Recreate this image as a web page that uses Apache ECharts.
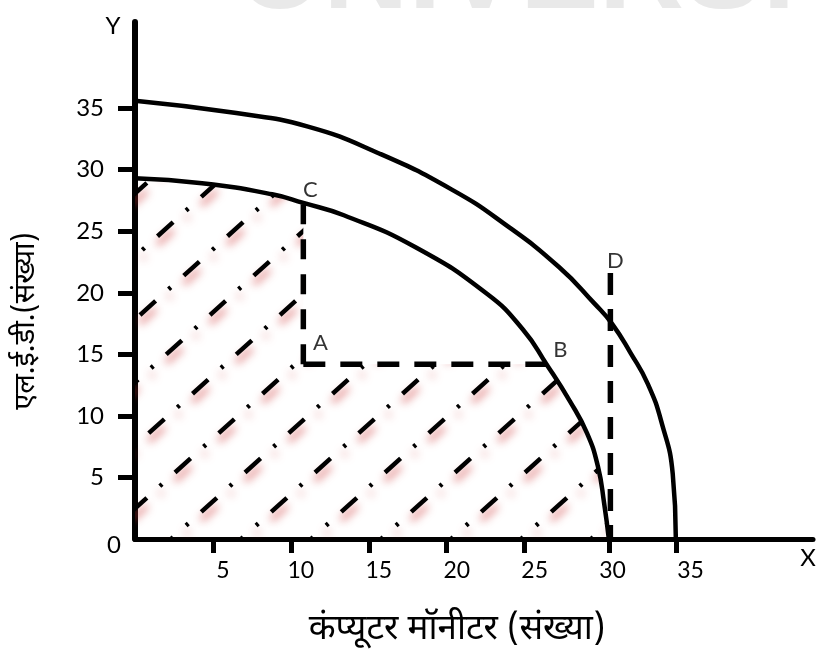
<!DOCTYPE html>
<html>
<head>
<meta charset="utf-8">
<script src="https://cdn.jsdelivr.net/npm/echarts@6/dist/echarts.min.js"></script>
<style>
  html, body { margin: 0; padding: 0; background: #fff; }
  #chart { width: 822px; height: 649px; }
</style>
</head>
<body>
<div id="chart"></div>
<script>
// Production possibility curves: LEDs (y) against computer monitors (x)
const xTickValues = [5, 10, 15, 20, 25, 30, 35];
const yTickValues = [5, 10, 15, 20, 25, 30, 35];

// original (inner) and shifted (outer) production possibility curves
const innerCurve = [[0, 29.3], [4.3, 28.9], [8.8, 28.0], [10.8, 27.3], [13.4, 26.3], [18.0, 23.7],
                    [22.6, 19.9], [24.9, 17.0], [26.4, 14.2], [27.9, 11.2], [29.0, 8.6],
                    [29.7, 5.9], [30.1, 2.9], [30.4, 0]];
const outerCurve = [[0, 35.6], [6.5, 34.6], [11.1, 33.5], [15.7, 31.3], [20.3, 28.4], [23.7, 25.6],
                    [27.2, 22.1], [29.5, 19.1], [30.6, 17.5], [31.8, 15.1], [32.9, 12.6],
                    [33.8, 9.4], [34.5, 5.3], [34.7, 0]];

// labelled points
const pointA = [10.8, 14.2];
const pointB = [26.4, 14.2];
const pointC = [10.8, 27.3];
const pointD = [30.5, 21.6];
const pointNames = ['A', 'B', 'C', 'D'];

const xTitle = 'कंप्यूटर मॉनीटर (संख्या)';
const yTitle = 'एल.ई.डी.(संख्या)';

const latin = 'Lato, "Open Sans", sans-serif';
const deva = '"Noto Sans Devanagari", "Lohit Devanagari", Mangal, "Noto Sans", sans-serif';

// repeating tile of dash-dot diagonal hatching with a soft red shadow
function makeHatchTile() {
  const W = 70, rise = 63, H = rise * 5;
  const D = Math.hypot(W, rise);
  const P = D * 5 / 8;
  const canvas = document.createElement('canvas');
  canvas.width = W; canvas.height = H;
  const ctx = canvas.getContext('2d');
  const ux = W / D, uy = -rise / D;
  const dash = 21, dot = 3, gap = (P - dash - dot) / 2;
  ctx.lineWidth = 4.5;
  ctx.lineCap = 'butt';
  ctx.strokeStyle = '#000';
  ctx.shadowColor = 'rgba(205, 50, 50, 0.65)';
  ctx.shadowBlur = 8;
  ctx.shadowOffsetX = 0;
  ctx.shadowOffsetY = 8;
  ctx.setLineDash([dash, gap, dot, gap]);
  const t0 = -30, t1 = D + 30;
  for (let n = -1; n <= 7; n++) {
    const phase = ((-n * D) % P + P) % P;
    ctx.lineDashOffset = (((phase + t0) % P) + P) % P;
    ctx.beginPath();
    ctx.moveTo(t0 * ux, rise * n + t0 * uy);
    ctx.lineTo(t1 * ux, rise * n + t1 * uy);
    ctx.stroke();
  }
  return canvas;
}

// shaded area under the inner curve, leaving out the corner beyond A
function hatchRegion() {
  const pts = [[0, 0]];
  for (let i = innerCurve.length - 1; i >= 0; i--) {
    const p = innerCurve[i];
    if (p[1] < pointB[1]) pts.push(p);
  }
  pts.push(pointB, pointA, pointC);
  for (let i = innerCurve.length - 1; i >= 0; i--) {
    const p = innerCurve[i];
    if (p[0] < pointC[0]) pts.push(p);
  }
  return pts;
}

const hatchTile = makeHatchTile();
const region = hatchRegion();

const chart = echarts.init(document.getElementById('chart'), null, { renderer: 'canvas' });

const dashed = (from, to, dash) => ({
  type: 'line',
  data: [from, to],
  showSymbol: false,
  symbol: 'none',
  silent: true,
  z: 4,
  lineStyle: { color: '#000', width: 5.5, type: dash, cap: 'butt' }
});

const curve = (pts) => ({
  type: 'line',
  data: pts,
  smooth: 0.5,
  showSymbol: false,
  symbol: 'none',
  silent: true,
  z: 3,
  lineStyle: { color: '#000', width: 4.5 }
});

const labelOffsets = { A: [17, -21], B: [14, -14], C: [7, -13], D: [5, -12] };
const namedPoints = [pointA, pointB, pointC, pointD];

const option = {
  animation: false,
  backgroundColor: '#fff',
  grid: { left: 135, top: 22, right: 9, bottom: 110, outerBoundsMode: 'none', containLabel: false },
  xAxis: {
    type: 'value', min: 0, max: 43.5,
    axisLine: { show: true, onZero: false, lineStyle: { color: '#000', width: 5 } },
    axisTick: { show: true, customValues: [5, 10, 15, 20, 25, innerCurve[innerCurve.length - 1][0], outerCurve[outerCurve.length - 1][0]],
                length: 14, lineStyle: { color: '#000', width: 5 } },
    axisLabel: { customValues: xTickValues, color: '#000', fontSize: 23, fontFamily: latin, margin: 20, padding: [0, 0, 0, 20] },
    splitLine: { show: false }
  },
  yAxis: {
    type: 'value', min: 0, max: 42,
    axisLine: { show: true, onZero: false, lineStyle: { color: '#000', width: 6 } },
    axisTick: { show: true, customValues: yTickValues, length: 17, lineStyle: { color: '#000', width: 5 } },
    axisLabel: { customValues: yTickValues, color: '#000', fontSize: 24, fontFamily: latin, margin: 31 },
    splitLine: { show: false }
  },
  series: [
    {
      type: 'custom',
      coordinateSystem: 'cartesian2d',
      data: [[0, 0]],
      silent: true,
      z: 1,
      renderItem: (params, api) => ({
        type: 'polygon',
        shape: { points: region.map(p => api.coord(p)) },
        style: { fill: { image: hatchTile, repeat: 'repeat' }, stroke: null }
      })
    },
    curve(innerCurve),
    curve(outerCurve),
    dashed(pointA, pointC, [20, 15]),
    dashed(pointA, pointB, [22, 15]),
    dashed(pointD, [pointD[0], 0], [22, 14]),
    {
      type: 'scatter',
      symbolSize: 1,
      itemStyle: { color: 'rgba(0,0,0,0)' },
      silent: true,
      z: 5,
      data: namedPoints.map((p, i) => ({
        name: pointNames[i],
        value: p,
        label: { offset: labelOffsets[pointNames[i]] }
      })),
      label: { show: true, position: 'inside', formatter: '{b}', color: '#000', fontSize: 22, fontFamily: latin }
    }
  ]
};

chart.setOption(option);

// titles, axis letters and the corner zero
const origin = chart.convertToPixel({ gridIndex: 0 }, [0, 0]);
chart.setOption({
  graphic: [
    { type: 'text', x: 238, y: -25, silent: true, z: -1,
      style: { text: 'UNIVERSITY', font: 'bold 118px "Liberation Sans", Arial, sans-serif', fill: '#e9e9e9',
               align: 'left', verticalAlign: 'middle' } },
    { type: 'text', x: origin[0] - 21, y: origin[1] + 6, silent: true,
      style: { text: '0', font: '24px ' + latin, fill: '#000', align: 'center', verticalAlign: 'middle' } },
    { type: 'text', x: 113, y: 26, silent: true,
      style: { text: 'Y', font: '24px ' + latin, fill: '#000', align: 'center', verticalAlign: 'middle' } },
    { type: 'text', x: 808, y: 558, silent: true,
      style: { text: 'X', font: '24px ' + latin, fill: '#000', align: 'center', verticalAlign: 'middle' } },
    { type: 'text', x: 457, y: 632, silent: true,
      style: { text: xTitle, font: '35px ' + deva, fill: '#000', align: 'center', verticalAlign: 'middle' } },
    { type: 'text', x: 29, y: 321, rotation: Math.PI / 2, silent: true,
      style: { text: yTitle, font: '29px ' + deva, fill: '#000', align: 'center', verticalAlign: 'middle' } }
  ]
});
</script>
</body>
</html>
